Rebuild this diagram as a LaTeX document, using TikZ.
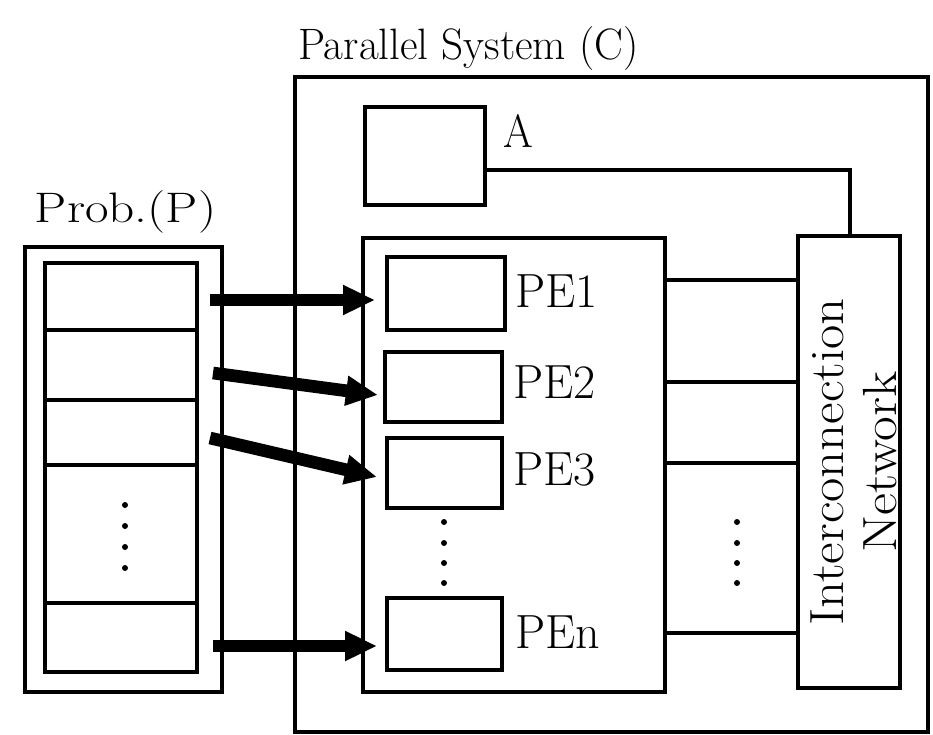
\documentclass[tikz,border=0pt]{standalone}
\usepackage{fontspec}
\usetikzlibrary{arrows.meta,fit}
\begin{document}
\begin{tikzpicture}[x=0.75pt,y=-0.75pt,
  box/.style={draw, line width=3.4pt, inner sep=0pt},
  thinbox/.style={draw, line width=2.6pt, inner sep=0pt},
  conn/.style={line width=3pt},
  bigarrow/.style={line width=9.5pt, -{Triangle[length=24pt,width=21pt]}},
  lbl/.style={inner sep=0pt, outer sep=0pt},
  dot/.style={circle, fill, inner sep=0pt, minimum size=4.5pt}]
\useasboundingbox (0,0) rectangle (933,735);
% outer system
\node[box, fit={(295,77) (928,732)}] (sys) {};
\node[lbl, anchor=base west] (title) at (298,60) {\scalebox{0.98}[1]{\fontsize{33}{36}\selectfont Parallel System (C)}};
% problem
\node[box, fit={(25,247) (222,692)}] (probout) {};
\node[box, fit={(45,263) (197,672)}] (probin) {};
\node[lbl, anchor=base west] (probl) at (35,222) {\scalebox{1.2}[1]{\fontsize{32}{35}\selectfont Prob.(P)}};
\foreach \yy/\nm in {330/d1,400/d2,465/d3,603/d4}{
  \coordinate (\nm) at (0,\yy);
  \draw[conn] (probin.west |- \nm) -- (probin.east |- \nm);
}
\node[dot] (pd1) at (125,505) {};
\node[dot] (pd2) at (125,526) {};
\node[dot] (pd3) at (125,547) {};
\node[dot] (pd4) at (125,568) {};
% A
\node[box, fit={(365,107) (485,205)}] (A) {};
\node[lbl, anchor=base west] (Al) at (503,147) {\scalebox{0.92}[1]{\fontsize{35}{38}\selectfont A}};
% container
\node[box, fit={(363,238) (665,692)}] (cont) {};
\node[box, fit={(387,257) (505,330)}] (pe1) {};
\node[box, fit={(385,352) (502,422)}] (pe2) {};
\node[box, fit={(387,438) (502,508)}] (pe3) {};
\node[box, fit={(387,598) (502,670)}] (pen) {};
\node[lbl, anchor=base west] (pe1l) at (515,307) {\scalebox{1.0}[1]{\fontsize{36}{39}\selectfont PE1}};
\node[lbl, anchor=base west] (pe2l) at (513,398) {\scalebox{1.0}[1]{\fontsize{36}{39}\selectfont PE2}};
\node[lbl, anchor=base west] (pe3l) at (513,485) {\scalebox{1.0}[1]{\fontsize{36}{39}\selectfont PE3}};
\node[lbl, anchor=base west] (penl) at (515,648) {\scalebox{1.0}[1]{\fontsize{36}{39}\selectfont PEn}};
\node[dot] (cd1) at (444,522) {};
\node[dot] (cd2) at (444,543) {};
\node[dot] (cd3) at (444,563) {};
\node[dot] (cd4) at (444,583) {};
% interconnection network
\node[thinbox, fit={(798,236) (900,688)}] (IN) {};
\node[lbl, anchor=base, rotate=90] (inl1) at (843,462) {\scalebox{1.1}[1]{\fontsize{36}{39}\selectfont Interconnection}};
\node[lbl, anchor=base, rotate=90] (inl2) at (896,462) {\scalebox{1.12}[1]{\fontsize{36}{39}\selectfont Network}};
\coordinate (aline) at (850,170);
\draw[conn] (A.east |- aline) -- (aline) -- (IN.north -| aline);
\foreach \yy/\nm in {280/l1,382/l2,463/l3,633/l4}{
  \coordinate (\nm) at (0,\yy);
  \draw[conn] (cont.east |- \nm) -- (IN.west |- \nm);
}
\node[dot] (md1) at (737,522) {};
\node[dot] (md2) at (737,543) {};
\node[dot] (md3) at (737,563) {};
\node[dot] (md4) at (737,583) {};
% arrows
\coordinate (s1) at (210,300); \coordinate (t1) at (375,300);
\coordinate (s2) at (213,373); \coordinate (t2) at (378,395);
\coordinate (s3) at (210,438); \coordinate (t3) at (377,477);
\coordinate (s4) at (213,646); \coordinate (t4) at (377,646);
\draw[bigarrow] (s1) -- (t1);
\draw[bigarrow] (s2) -- (t2);
\draw[bigarrow] (s3) -- (t3);
\draw[bigarrow] (s4) -- (t4);
\end{tikzpicture}
\end{document}
